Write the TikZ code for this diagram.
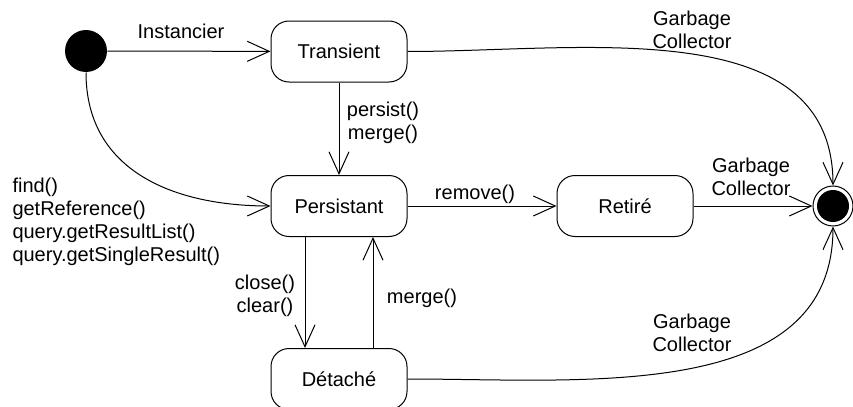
\documentclass[tikz,border=0pt]{standalone}
\usepackage{fontspec}
\setmainfont{Liberation Sans}
\usetikzlibrary{arrows.meta}

\begin{document}
\begin{tikzpicture}[x=0.5pt,y=-0.5pt,line width=0.5pt,
    font=\fontsize{10}{11.5}\selectfont,
    >={Straight Barb[length=11pt,width=10pt]},
    state/.style={draw,rounded corners=9pt,minimum width=68pt,minimum height=30.5pt,inner sep=0pt},
    txt/.style={inner sep=0pt,align=center},
    trans/.style={->}]
  \useasboundingbox (0,0) rectangle (853,407);

  % states
  \node[circle,fill=black,minimum size=21pt,inner sep=0pt] (init) at (86,51) {};
  \node[state] (transient) at (339,51.5) {Transient};
  \node[state] (persist) at (339,206) {Persistant};
  \node[state] (retire) at (625,206) {Retiré};
  \node[state] (detache) at (339,379) {Détaché};
  \node[circle,draw,minimum size=20pt,inner sep=0pt] (final) at (833,206) {};
  \node[circle,fill=black,minimum size=16pt,inner sep=0pt] at (final) {};

  % transitions
  \draw[trans] (init) -- (transient);
  \draw[trans] (init) to[out=-90,in=180,looseness=1.1] (persist);
  \draw[trans] (transient) -- (persist);
  \draw[trans] (persist) -- (retire);
  \draw[trans] (retire) -- (final);
  \draw[trans] (persist.south -| 305,0) -- (detache.north -| 305,0);
  \draw[trans] (detache.north -| 373,0) -- (persist.south -| 373,0);
  \draw[trans] (transient) to[out=0,in=90] (final);
  \draw[trans] (detache) to[out=0,in=-90] (final);

  % labels
  \node[txt] (l_inst) at (181,31) {Instancier};
  \node[txt] (l_pm) at (383,123) {persist()\\merge()};
  \node[txt,anchor=west,align=left] (l_find) at (12,222) {find()\\getReference()\\query.getResultList()\\query.getSingleResult()};
  \node[txt] (l_remove) at (475,194) {remove()};
  \node[txt] (l_close) at (265,296) {close()\\clear()};
  \node[txt] (l_merge) at (422,298) {merge()};
  \node[txt] (l_gc1) at (692,30) {Garbage\\Collector};
  \node[txt] (l_gc2) at (751,177) {Garbage\\Collector};
  \node[txt] (l_gc3) at (692,333) {Garbage\\Collector};

\end{tikzpicture}
\end{document}
